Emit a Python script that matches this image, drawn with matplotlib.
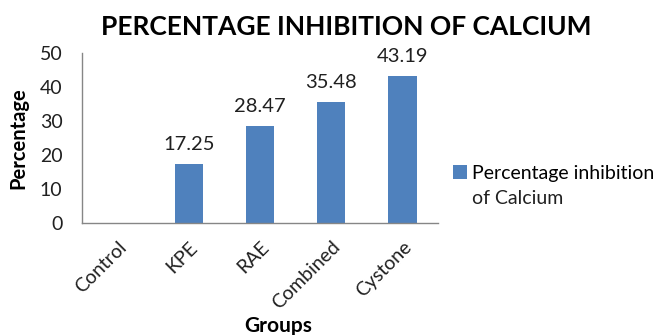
import numpy as np
import matplotlib.pyplot as plt

groups = ["Control", "KPE", "RAE", "Combined", "Cystone"]
inhibition = [0, 17.25, 28.47, 35.48, 43.19]
yticks = [0, 10, 20, 30, 40, 50]

plt.rcParams['font.family'] = ['Lato', 'DejaVu Sans']
blue = '#4F81BD'
grey = '#868686'

fig = plt.figure(figsize=(6.65, 3.35), dpi=100)
ax = fig.add_axes([82/665, 1-223/335, 356/665, 170/335])

x = np.arange(len(groups))
bars = ax.bar(x, inhibition, width=0.4, color=blue, zorder=2)
for xi, v in zip(x, inhibition):
    if v > 0:
        ax.annotate(f"{v:.2f}", (xi, v), xytext=(0, 8), textcoords='offset points',
                    ha='center', va='bottom', fontsize=14.5, color='#202020')

ax.set_xlim(-0.5, len(groups)-0.5)
ax.set_ylim(0, 50)
ax.set_yticks(yticks)
ax.set_xticks(x)
ax.set_xticklabels(groups, rotation=45, ha='right', rotation_mode='anchor')
ax.tick_params(axis='both', length=0, labelsize=14, colors='#202020')
ax.tick_params(axis='y', pad=14)
ax.tick_params(axis='x', pad=11)

for s in ['top', 'right']:
    ax.spines[s].set_visible(False)
for s in ['left', 'bottom']:
    ax.spines[s].set_color(grey)
    ax.spines[s].set_linewidth(1)

ax.set_ylabel("Percentage", fontsize=14.5, fontweight='bold')
ax.yaxis.set_label_coords(-0.15, 0.5)
ax.set_xlabel("Groups", fontsize=15, fontweight='bold')
ax.xaxis.set_label_coords(0.55, -0.545)

fig.text(346/665, 1-27/335, "PERCENTAGE INHIBITION OF CALCIUM", ha='center', va='center',
         fontsize=19, fontweight='bold')

leg = ax.legend([bars], ["Percentage inhibition"], loc='center left',
                bbox_to_anchor=(453/665, 1-173/335), bbox_transform=fig.transFigure,
                frameon=False, fontsize=14, handlelength=0.7, handleheight=0.7,
                handletextpad=0.3, borderpad=0, borderaxespad=0)
fig.text(472/665, 1-198/335, "of Calcium", ha='left', va='center', fontsize=14, color='#202020')

plt.savefig("out.png", dpi=100)
